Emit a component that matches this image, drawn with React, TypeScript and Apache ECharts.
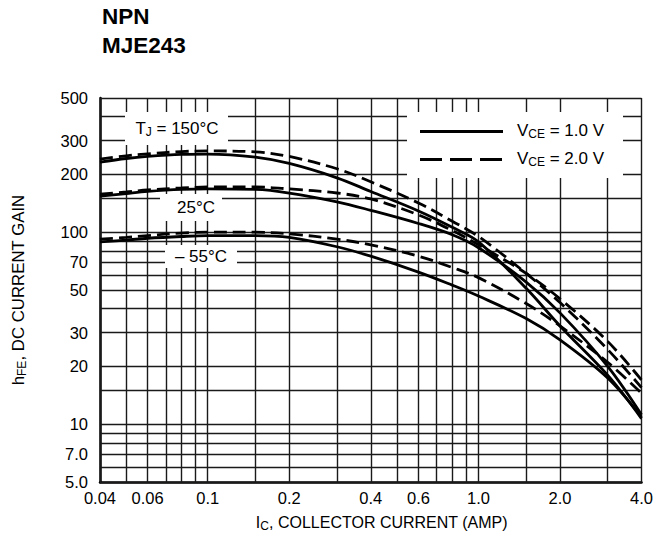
import React, { useEffect, useRef } from "react";
import * as echarts from "echarts";

// Collector current sample points (A)
const currentA = [0.04, 0.05, 0.06, 0.08, 0.1, 0.15, 0.2, 0.3, 0.4, 0.6, 0.8, 1.0, 1.5, 2.0, 3.0, 4.0];

// hFE readings, VCE = 1.0 V (solid)
const hfe150_1V = [232, 242, 248, 254, 255, 246, 228, 192, 163, 129, 106, 89, 51, 32.5, 18, 10.7];
const hfe25_1V = [154, 159, 163, 167, 168, 167, 160, 144, 130, 111, 97, 83, 55, 38, 20, 11.2];
const hfeM55_1V = [89, 91, 93, 95, 96, 96, 94, 84, 75, 62, 53, 46.5, 35.5, 27.5, 17.4, 10.9];

// hFE readings, VCE = 2.0 V (dashed)
const hfe150_2V = [240, 250, 256, 263, 265, 262, 248, 214, 183, 142, 114, 95, 61, 43, 24.5, 15.5];
const hfe25_2V = [158, 162, 166, 170, 172, 172, 168, 160, 149, 123, 102, 86, 61, 45, 27, 17];
const hfeM55_2V = [92, 94, 96, 99, 100, 100, 98, 92, 86, 75, 65.5, 58, 42.5, 32.5, 21, 14.5];

// Grid lines
const gridX = [0.04, 0.05, 0.06, 0.07, 0.08, 0.09, 0.1, 0.15, 0.2, 0.3, 0.4, 0.5, 0.6, 0.7, 0.8, 0.9, 1, 1.5, 2, 3, 4];
const gridY = [5, 6, 7, 8, 9, 10, 15, 20, 30, 40, 50, 60, 70, 80, 90, 100, 150, 200, 300, 400, 500];

// Tick labels
const xTickValues = [0.04, 0.06, 0.1, 0.2, 0.4, 0.6, 1, 2, 4];
const xTickLabels = ["0.04", "0.06", "0.1", "0.2", "0.4", "0.6", "1.0", "2.0", "4.0"];
const yTickValues = [5, 7, 10, 20, 30, 50, 70, 100, 200, 300, 500];
const yTickLabels = ["5.0", "7.0", "10", "20", "30", "50", "70", "100", "200", "300", "500"];

const FONT = '"Liberation Sans", Arial, Helvetica, sans-serif';

function lookup(values: number[], labels: string[], v: number): string {
  for (let i = 0; i < values.length; i++) {
    if (Math.abs(Math.log10(values[i]) - Math.log10(v)) < 1e-4) return labels[i];
  }
  return "";
}

function curve(name: string, ys: number[], dashed: boolean) {
  return {
    name,
    type: "line",
    data: currentA.map((x, i) => [x, ys[i]]),
    smooth: 0.35,
    showSymbol: false,
    symbol: "none",
    z: 10,
    silent: true,
    lineStyle: { color: "#000", width: 2.8, type: dashed ? [13, 6] : "solid", cap: "butt" },
  };
}

const subStyle = { fontSize: 12, fontFamily: FONT, color: "#000", verticalAlign: "top", padding: [8, 0, 0, 0] };

export default function App() {
  const ref = useRef<HTMLDivElement>(null);
  useEffect(() => {
    if (!ref.current) return;
    const chart = echarts.init(ref.current, null, { renderer: "svg" });
    const labelText = (text: string, x: number, y: number, align: string) => ({
      type: "text",
      z: 6,
      x,
      y,
      style: {
        text,
        font: `17px ${FONT}`,
        fill: "#000",
        align,
        verticalAlign: "middle",
        lineHeight: 20,
        rich: { sub: subStyle },
      },
    });
    const option: any = {
      animation: false,
      backgroundColor: "#fff",
      title: {
        text: "NPN\nMJE243",
        left: 102,
        top: 2,
        padding: 0,
        textStyle: { fontFamily: FONT, fontSize: 22.5, fontWeight: "bold", color: "#000", lineHeight: 29 },
      },
      grid: { left: 93.5, right: 14.5, top: 98, bottom: 66 },
      xAxis: {
        type: "log",
        logBase: 10,
        min: 0.04,
        max: 4,
        splitLine: { show: false },
        minorSplitLine: { show: false },
        axisTick: { show: false },
        axisLine: { show: true, lineStyle: { color: "#000", width: 2.5 } },
        axisLabel: {
          customValues: xTickValues,
          formatter: (v: number) => lookup(xTickValues, xTickLabels, v),
          fontFamily: FONT,
          fontSize: 16.5,
          color: "#000",
          margin: 7,
        },
        name: "I{sub|C}, COLLECTOR CURRENT (AMP)",
        nameLocation: "middle",
        nameGap: 30,
        nameTextStyle: { fontFamily: FONT, fontSize: 16, color: "#000", lineHeight: 20, padding: [0, 0, 0, 22], rich: { sub: subStyle } },
      },
      yAxis: {
        type: "log",
        logBase: 10,
        min: 5,
        max: 500,
        splitLine: { show: false },
        minorSplitLine: { show: false },
        axisTick: { show: false },
        axisLine: { show: true, lineStyle: { color: "#000", width: 2.5 } },
        axisLabel: {
          customValues: yTickValues,
          formatter: (v: number) => lookup(yTickValues, yTickLabels, v),
          fontFamily: FONT,
          fontSize: 16.5,
          color: "#000",
          margin: 12,
        },
        name: "h{sub|FE}, DC CURRENT GAIN",
        nameLocation: "middle",
        nameRotate: 90,
        nameGap: 72,
        nameTextStyle: { fontFamily: FONT, fontSize: 16.8, color: "#000", lineHeight: 20, rich: { sub: subStyle } },
      },
      series: [
        {
          name: "grid",
          type: "line",
          data: [],
          silent: true,
          z: 1,
          markLine: {
            silent: true,
            symbol: "none",
            z: 1,
            animation: false,
            label: { show: false },
            emphasis: { disabled: true },
            lineStyle: { color: "#1a1a1a", width: 1.4, type: "solid" },
            data: [...gridX.map((v) => ({ xAxis: v })), ...gridY.map((v) => ({ yAxis: v }))],
          },
        },
        curve("150 °C, 1.0 V", hfe150_1V, false),
        curve("25 °C, 1.0 V", hfe25_1V, false),
        curve("-55 °C, 1.0 V", hfeM55_1V, false),
        curve("150 °C, 2.0 V", hfe150_2V, true),
        curve("25 °C, 2.0 V", hfe25_2V, true),
        curve("-55 °C, 2.0 V", hfeM55_2V, true),
      ],
      graphic: [
        // legend box
        { type: "rect", z: 5, shape: { x: 407, y: 112, width: 216, height: 66 }, style: { fill: "#fff" } },
        { type: "line", z: 6, shape: { x1: 420, y1: 131.5, x2: 503, y2: 131.5 }, style: { stroke: "#000", lineWidth: 2.8 } },
        { type: "line", z: 6, shape: { x1: 420, y1: 159.5, x2: 503, y2: 159.5 }, style: { stroke: "#000", lineWidth: 2.8, lineDash: [22, 8] } },
        labelText("V{sub|CE} = 1.0 V", 517, 130, "left"),
        labelText("V{sub|CE} = 2.0 V", 517, 158, "left"),
        // temperature labels
        { type: "rect", z: 5, shape: { x: 125, y: 112, width: 103, height: 33 }, style: { fill: "#fff" } },
        labelText("T{sub|J} = 150°C", 177, 128, "center"),
        { type: "rect", z: 5, shape: { x: 160, y: 194, width: 62, height: 27 }, style: { fill: "#fff" } },
        labelText("25°C", 196, 207, "center"),
        { type: "rect", z: 5, shape: { x: 165, y: 245, width: 72, height: 23 }, style: { fill: "#fff" } },
        labelText("– 55°C", 201, 256, "center"),
      ],
    };
    chart.setOption(option);
    return () => chart.dispose();
  }, []);
  return <div ref={ref} style={{ position: "fixed", left: 0, top: 0, width: 656, height: 548, background: "#fff" }} />;
}
